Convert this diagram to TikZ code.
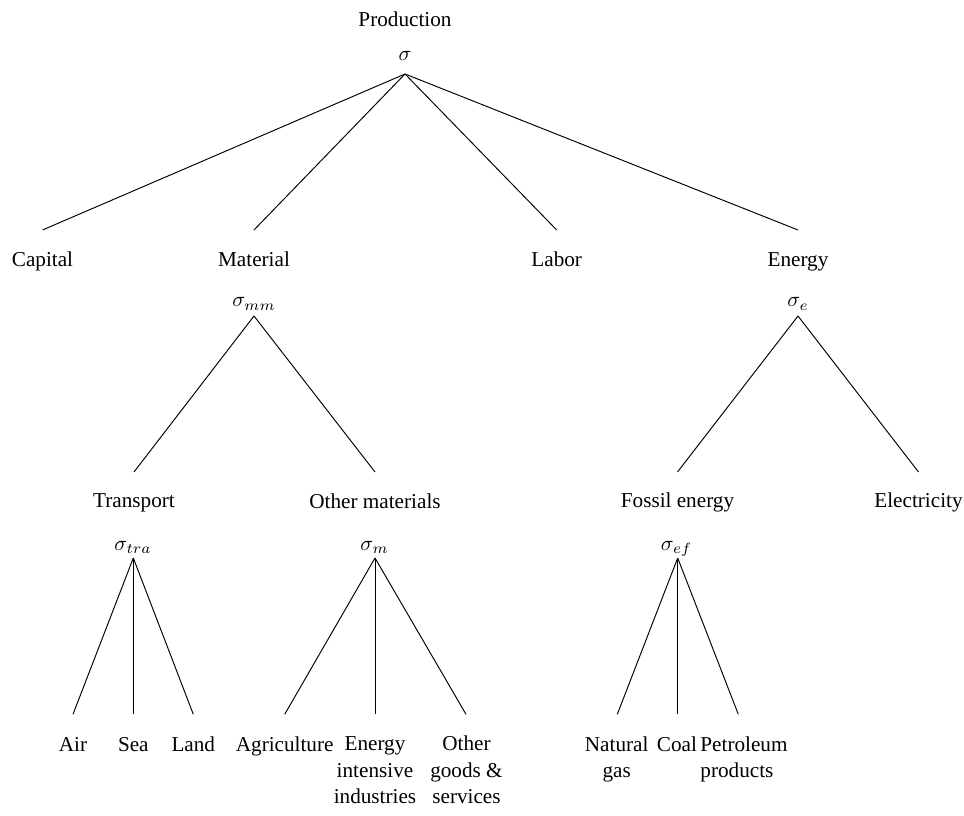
\documentclass[tikz,border=0pt]{standalone}
\usepackage{fontspec}
\setmainfont{Liberation Serif}
\usetikzlibrary{calc}
\begin{document}
\begin{tikzpicture}[x=0.4718pt,y=-0.4718pt,
  lbl/.style={anchor=base,inner sep=0pt,align=center,font=\fontsize{10}{12.3}\selectfont},
  edge/.style={line width=0.45pt}]
\useasboundingbox (0,0) rectangle (964,816);
% level 0
\node[lbl] (prod) at (405,26.7) {Production};
\node[lbl] (s0) at (405,61) {$\sigma$};
% level 1
\node[lbl] (cap) at (42.5,267) {Capital};
\node[lbl] (mat) at (254,267) {Material};
\node[lbl] (lab) at (556.7,267) {Labor};
\node[lbl] (ene) at (798,267) {Energy};
\node[lbl] (smm) at (254,307) {$\sigma_{mm}$};
\node[lbl] (se) at (798,307) {$\sigma_e$};
% level 2
\node[lbl] (tra) at (134,508) {Transport};
\node[lbl] (oth) at (375,509) {Other materials};
\node[lbl] (fos) at (677.5,508) {Fossil energy};
\node[lbl] (ele) at (918.5,508) {Electricity};
\node[lbl] (stra) at (133,550) {$\sigma_{tra}$};
\node[lbl] (sm) at (374.5,550) {$\sigma_m$};
\node[lbl] (sef) at (676.5,550) {$\sigma_{ef}$};
% leaves (base anchor = baseline of the last line)
\node[lbl] (air) at (73,751) {Air};
\node[lbl] (sea) at (133.3,751) {Sea};
\node[lbl] (land) at (193.3,751) {Land};
\node[lbl] (agr) at (284.7,751) {Agriculture};
\node[lbl] (eii) at (375,803.1) {Energy\\intensive\\industries};
\node[lbl] (ogs) at (466.5,803.1) {Other\\goods \&\\services};
\node[lbl] (gas) at (616.7,777.1) {Natural\\gas};
\node[lbl] (coal) at (677,751) {Coal};
\node[lbl,align=left] (pet) at (744,777.1) {Petroleum\\products};
% connectors
\draw[edge] ($(s0.base)+(0,13)$) -- ($(cap.base)+(0,-37)$);
\draw[edge] ($(s0.base)+(0,13)$) -- ($(mat.base)+(0,-37)$);
\draw[edge] ($(s0.base)+(0,13)$) -- ($(lab.base)+(0,-37)$);
\draw[edge] ($(s0.base)+(0,13)$) -- ($(ene.base)+(0,-37)$);
\draw[edge] ($(smm.base)+(0,9)$) -- ($(tra.base)+(0,-36)$);
\draw[edge] ($(smm.base)+(0,9)$) -- ($(oth.base)+(0,-37)$);
\draw[edge] ($(se.base)+(0,9)$) -- ($(fos.base)+(0,-36)$);
\draw[edge] ($(se.base)+(0,9)$) -- ($(ele.base)+(0,-36)$);
\draw[edge] ($(stra.base)+(0.3,8)$) -- ($(air.base)+(0,-36.7)$);
\draw[edge] ($(stra.base)+(0.3,8)$) -- ($(sea.base)+(0,-36.7)$);
\draw[edge] ($(stra.base)+(0.3,8)$) -- ($(land.base)+(0,-36.7)$);
\draw[edge] ($(sm.base)+(0.5,8)$) -- ($(agr.base)+(0,-36.7)$);
\draw[edge] ($(sm.base)+(0.5,8)$) -- ($(eii.base)+(0,-88.8)$);
\draw[edge] ($(sm.base)+(0.5,8)$) -- ($(ogs.base)+(-0.5,-88.8)$);
\draw[edge] ($(sef.base)+(1.2,8)$) -- ($(gas.base)+(0.6,-62.8)$);
\draw[edge] ($(sef.base)+(1.2,8)$) -- ($(coal.base)+(0.7,-36.7)$);
\draw[edge] ($(sef.base)+(1.2,8)$) -- ($(pet.base)+(-5.7,-62.8)$);
\end{tikzpicture}
\end{document}
